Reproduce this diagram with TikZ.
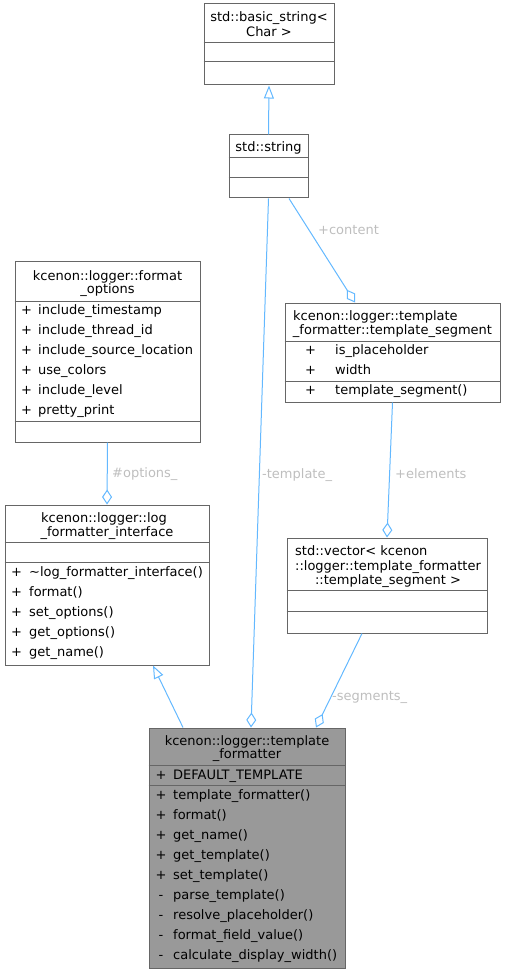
\documentclass[tikz,border=0pt]{standalone}
\usepackage{fontspec}
\setmainfont{DejaVu Sans}
\usetikzlibrary{arrows.meta}
\definecolor{edgeblue}{HTML}{63B8FF}
\definecolor{boxgray}{HTML}{666666}
\definecolor{lblgray}{HTML}{BEBEBE}
\definecolor{tffill}{HTML}{999999}

\begin{document}
\begin{tikzpicture}[x=1pt,y=-1pt,
  font=\fontsize{13}{15}\selectfont,
  cls/.style={draw=boxgray, line width=1pt, inner sep=0pt},
  divider/.style={draw=boxgray, line width=1pt},
  txt/.style={inner sep=0pt, anchor=base},
  mem/.style={inner sep=0pt, anchor=base west},
  lbl/.style={inner sep=0pt, anchor=base west, text=lblgray},
  aggr/.style={draw=edgeblue, line width=1pt, -{Diamond[open,length=15pt,width=10pt]}},
  inherit/.style={draw=edgeblue, line width=1pt, -{Triangle[open,length=13pt,width=10pt]}}]
  \useasboundingbox (0,0) rectangle (505,973);

  % std::basic_string< Char >
  \node[cls, minimum width=130pt, minimum height=81pt] (basic) at (269,44.5) {};
  \draw[divider] (basic.west |- 0,43) -- (basic.east |- 0,43);
  \draw[divider] (basic.west |- 0,62) -- (basic.east |- 0,62);
  \node[txt] (basict1) at (269,22) {std::basic\_string<};
  \node[txt] (basict2) at (269,37) {Char >};

  % std::string
  \node[cls, minimum width=79pt, minimum height=63pt] (str) at (268.5,166.5) {};
  \draw[divider] (str.west |- 0,158) -- (str.east |- 0,158);
  \draw[divider] (str.west |- 0,178) -- (str.east |- 0,178);
  \node[txt] (strt1) at (268.5,152) {std::string};

  % format_options
  \node[cls, minimum width=185pt, minimum height=180pt] (fmt) at (107.5,352) {};
  \draw[divider] (fmt.west |- 0,301) -- (fmt.east |- 0,301);
  \draw[divider] (fmt.west |- 0,421) -- (fmt.east |- 0,421);
  \node[txt] (fmtt1) at (107.5,280) {kcenon::logger::format};
  \node[txt] (fmtt2) at (107.5,294) {\_options};
  \foreach \m [count=\i from 0] in {include\_timestamp, include\_thread\_id,
      include\_source\_location, use\_colors, include\_level, pretty\_print} {
    \node[txt] (fmtv\i) at (26.5,314+20*\i) {+};
    \node[mem] (fmtm\i) at (38,314+20*\i) {\m};
  }

  % log_formatter_interface
  \node[cls, minimum width=204pt, minimum height=160pt] (log) at (107,585) {};
  \draw[divider] (log.west |- 0,542) -- (log.east |- 0,542);
  \draw[divider] (log.west |- 0,562) -- (log.east |- 0,562);
  \node[mem] (logt1) at (41,522) {kcenon::logger::log};
  \node[txt] (logt2) at (107,536) {\_formatter\_interface};
  \foreach \m [count=\i from 0] in {\textasciitilde log\_formatter\_interface(),
      format(), set\_options(), get\_options(), get\_name()} {
    \node[txt] (logv\i) at (16.5,576+20*\i) {+};
    \node[mem] (logm\i) at (29,576+20*\i) {\m};
  }

  % template_segment
  \node[cls, minimum width=215pt, minimum height=99pt] (seg) at (392.5,352.5) {};
  \draw[divider] (seg.west |- 0,341) -- (seg.east |- 0,341);
  \draw[divider] (seg.west |- 0,381) -- (seg.east |- 0,381);
  \node[mem] (segt1) at (293,320) {kcenon::logger::template};
  \node[txt] (segt2) at (392.5,334) {\_formatter::template\_segment};
  \node[txt] (segv0) at (310.5,354) {+};
  \node[mem] (segm0) at (335,354) {is\_placeholder};
  \node[txt] (segv1) at (310.5,374) {+};
  \node[mem] (segm1) at (335,374) {width};
  \node[txt] (segv2) at (310.5,394) {+};
  \node[mem] (segm2) at (335,394) {template\_segment()};

  % std::vector< template_segment >
  \node[cls, minimum width=200pt, minimum height=95pt] (vec) at (387,585.5) {};
  \draw[divider] (vec.west |- 0,590) -- (vec.east |- 0,590);
  \draw[divider] (vec.west |- 0,611) -- (vec.east |- 0,611);
  \node[mem] (vect1) at (295,555) {std::vector< kcenon};
  \node[txt] (vect2) at (388,570) {::logger::template\_formatter};
  \node[txt] (vect3) at (388,584) {::template\_segment >};

  % template_formatter
  \node[cls, fill=tffill, minimum width=196pt, minimum height=240pt] (tf) at (247,848) {};
  \draw[divider] (tf.west |- 0,765) -- (tf.east |- 0,765);
  \draw[divider] (tf.west |- 0,785) -- (tf.east |- 0,785);
  \node[txt] (tft1) at (247,745) {kcenon::logger::template};
  \node[txt] (tft2) at (247,758) {\_formatter};
  \node[txt] (tfa) at (161,779) {+};
  \node[mem] (tfam) at (173,779) {DEFAULT\_TEMPLATE};
  \foreach \v/\m [count=\i from 0] in {+/template\_formatter(), +/format(),
      +/get\_name(), +/get\_template(), +/set\_template(), -/parse\_template(),
      -/resolve\_placeholder(), -/format\_field\_value(),
      -/calculate\_display\_width()} {
    \node[txt] (tfv\i) at (161,799+20*\i) {\v};
    \node[mem] (tfm\i) at (173,799+20*\i) {\m};
  }

  % relations
  \draw[inherit] (str.north) -- (basic.south);
  \draw[aggr] (fmt.south) -- (log.north);
  \node[lbl] (lopt) at (112,477) {\#options\_};
  \draw[aggr] ([xshift=20.5pt]str.south) -- ([xshift=-37.5pt]seg.north);
  \node[lbl] (lcont) at (318,235) {+content};
  \draw[aggr] (str.south) -- ([xshift=4pt]tf.north);
  \node[lbl] (ltpl) at (262,478) {-template\_};
  \draw[aggr] (seg.south) -- (vec.north);
  \node[lbl] (lelem) at (395,478) {+elements};
  \draw[aggr] ([xshift=-25pt]vec.south) -- ([xshift=69pt]tf.north);
  \node[lbl] (lseg) at (332,700) {-segments\_};
  \draw[inherit] ([xshift=-64pt]tf.north) -- ([xshift=46pt]log.south);
\end{tikzpicture}
\end{document}
